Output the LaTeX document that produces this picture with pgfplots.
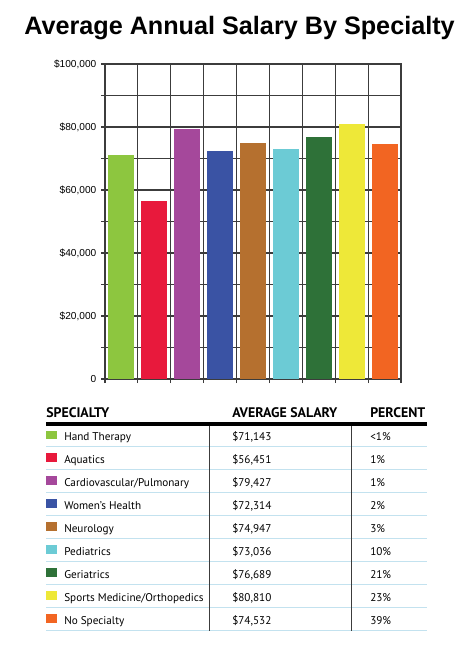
\documentclass[border=0pt]{standalone}
\usepackage{fontspec}
\setmainfont{Liberation Sans}
\newfontfamily\tablefont{PT Sans}
\usepackage{pgfplots}
\pgfplotsset{compat=1.18}

\definecolor{cHand}{HTML}{8DC63F}
\definecolor{cAqua}{HTML}{E8193C}
\definecolor{cCardio}{HTML}{A5489B}
\definecolor{cWomen}{HTML}{3A53A4}
\definecolor{cNeuro}{HTML}{B5702F}
\definecolor{cPed}{HTML}{6CCBD5}
\definecolor{cGer}{HTML}{2E7138}
\definecolor{cSport}{HTML}{EEE838}
\definecolor{cNone}{HTML}{F26522}
\definecolor{gridgray}{HTML}{3C3C3C}
\definecolor{rowline}{HTML}{C3E2EF}

\begin{document}
\begin{tikzpicture}
% page = 474 x 657 px, 1 px = 0.75pt
\path[use as bounding box] (0,0) rectangle (355.5pt,-492.75pt);

\begin{axis}[
  at={(78.75pt,-284.25pt)}, anchor=south west,
  width=222pt, height=236.25pt, scale only axis,
  xmin=-0.5, xmax=8.5, ymin=0, ymax=100000,
  xtick={-0.5,0.5,...,8.5}, xticklabels={},
  ytick={0,10000,...,100000},
  yticklabels={0,,{\$20,000},,{\$40,000},,{\$60,000},,{\$80,000},,{\$100,000}},
  scaled y ticks=false,
  grid=major,
  major grid style={gridgray, line width=0.85pt},
  axis line style={gridgray, line width=0.85pt},
  tick style={gridgray, line width=0.85pt},
  tick align=outside, major tick length=3pt,
  tick pos=left,
  yticklabel style={font=\fontsize{7.6}{9}\selectfont},
]
\addplot[ybar, bar shift=0pt, bar width=19.5pt, fill=cHand, draw=none] coordinates {(0,71143)};
\addplot[ybar, bar shift=0pt, bar width=19.5pt, fill=cAqua, draw=none] coordinates {(1,56451)};
\addplot[ybar, bar shift=0pt, bar width=19.5pt, fill=cCardio, draw=none] coordinates {(2,79427)};
\addplot[ybar, bar shift=0pt, bar width=19.5pt, fill=cWomen, draw=none] coordinates {(3,72314)};
\addplot[ybar, bar shift=0pt, bar width=19.5pt, fill=cNeuro, draw=none] coordinates {(4,74947)};
\addplot[ybar, bar shift=0pt, bar width=19.5pt, fill=cPed, draw=none] coordinates {(5,73036)};
\addplot[ybar, bar shift=0pt, bar width=19.5pt, fill=cGer, draw=none] coordinates {(6,76689)};
\addplot[ybar, bar shift=0pt, bar width=19.5pt, fill=cSport, draw=none] coordinates {(7,80810)};
\addplot[ybar, bar shift=0pt, bar width=19.5pt, fill=cNone, draw=none] coordinates {(8,74532)};
\end{axis}

\begin{scope}[x=0.75pt, y=-0.75pt]
  % title
  \node[anchor=base, inner sep=0pt, font=\fontsize{18.9}{22}\selectfont\bfseries]
    at (239.5,34) {Average Annual Salary By Specialty};

  % table header
  \begin{scope}[font=\tablefont\fontsize{10.4}{12}\selectfont\bfseries]
    \node[anchor=base west, inner sep=0pt] at (46,417) {SPECIALTY};
    \node[anchor=base west, inner sep=0pt] at (232,417) {AVERAGE SALARY};
    \node[anchor=base west, inner sep=0pt] at (370,417) {PERCENT};
  \end{scope}

  % row separators
  \foreach \k in {0,...,8}
    \draw[rowline, line width=0.8pt] (46,446.7+22.95*\k) -- (427,446.7+22.95*\k);
  % column rules and header rule
  \draw[gridgray, line width=0.8pt] (209.5,424) -- (209.5,631);
  \draw[gridgray, line width=0.8pt] (351.5,424) -- (351.5,631);
  \draw[black, line width=2.4pt] (46,424) -- (427,424);

  % rows
  \foreach \c/\name/\sal/\pct [count=\i from 0] in {
      cHand/Hand Therapy/\$71{,}143/<1\%,
      cAqua/Aquatics/\$56{,}451/1\%,
      cCardio/Cardiovascular\slash Pulmonary/\$79{,}427/1\%,
      cWomen/Women’s Health/\$72{,}314/2\%,
      cNeuro/Neurology/\$74{,}947/3\%,
      cPed/Pediatrics/\$73{,}036/10\%,
      cGer/Geriatrics/\$76{,}689/21\%,
      cSport/Sports Medicine\slash Orthopedics/\$80{,}810/23\%,
      cNone/No Specialty/\$74{,}532/39\%}
  {
    \pgfmathsetmacro\yb{440.5+22.95*\i}
    \fill[\c] (46,\yb-10) rectangle (56.5,\yb-1.5);
    \begin{scope}[font=\tablefont\fontsize{8.4}{10}\selectfont]
      \node[anchor=base west, inner sep=0pt] at (64,\yb) {\name};
      \node[anchor=base west, inner sep=0pt] at (232,\yb) {\sal};
      \node[anchor=base west, inner sep=0pt] at (370,\yb) {\pct};
    \end{scope}
  }
\end{scope}
\end{tikzpicture}
\end{document}
